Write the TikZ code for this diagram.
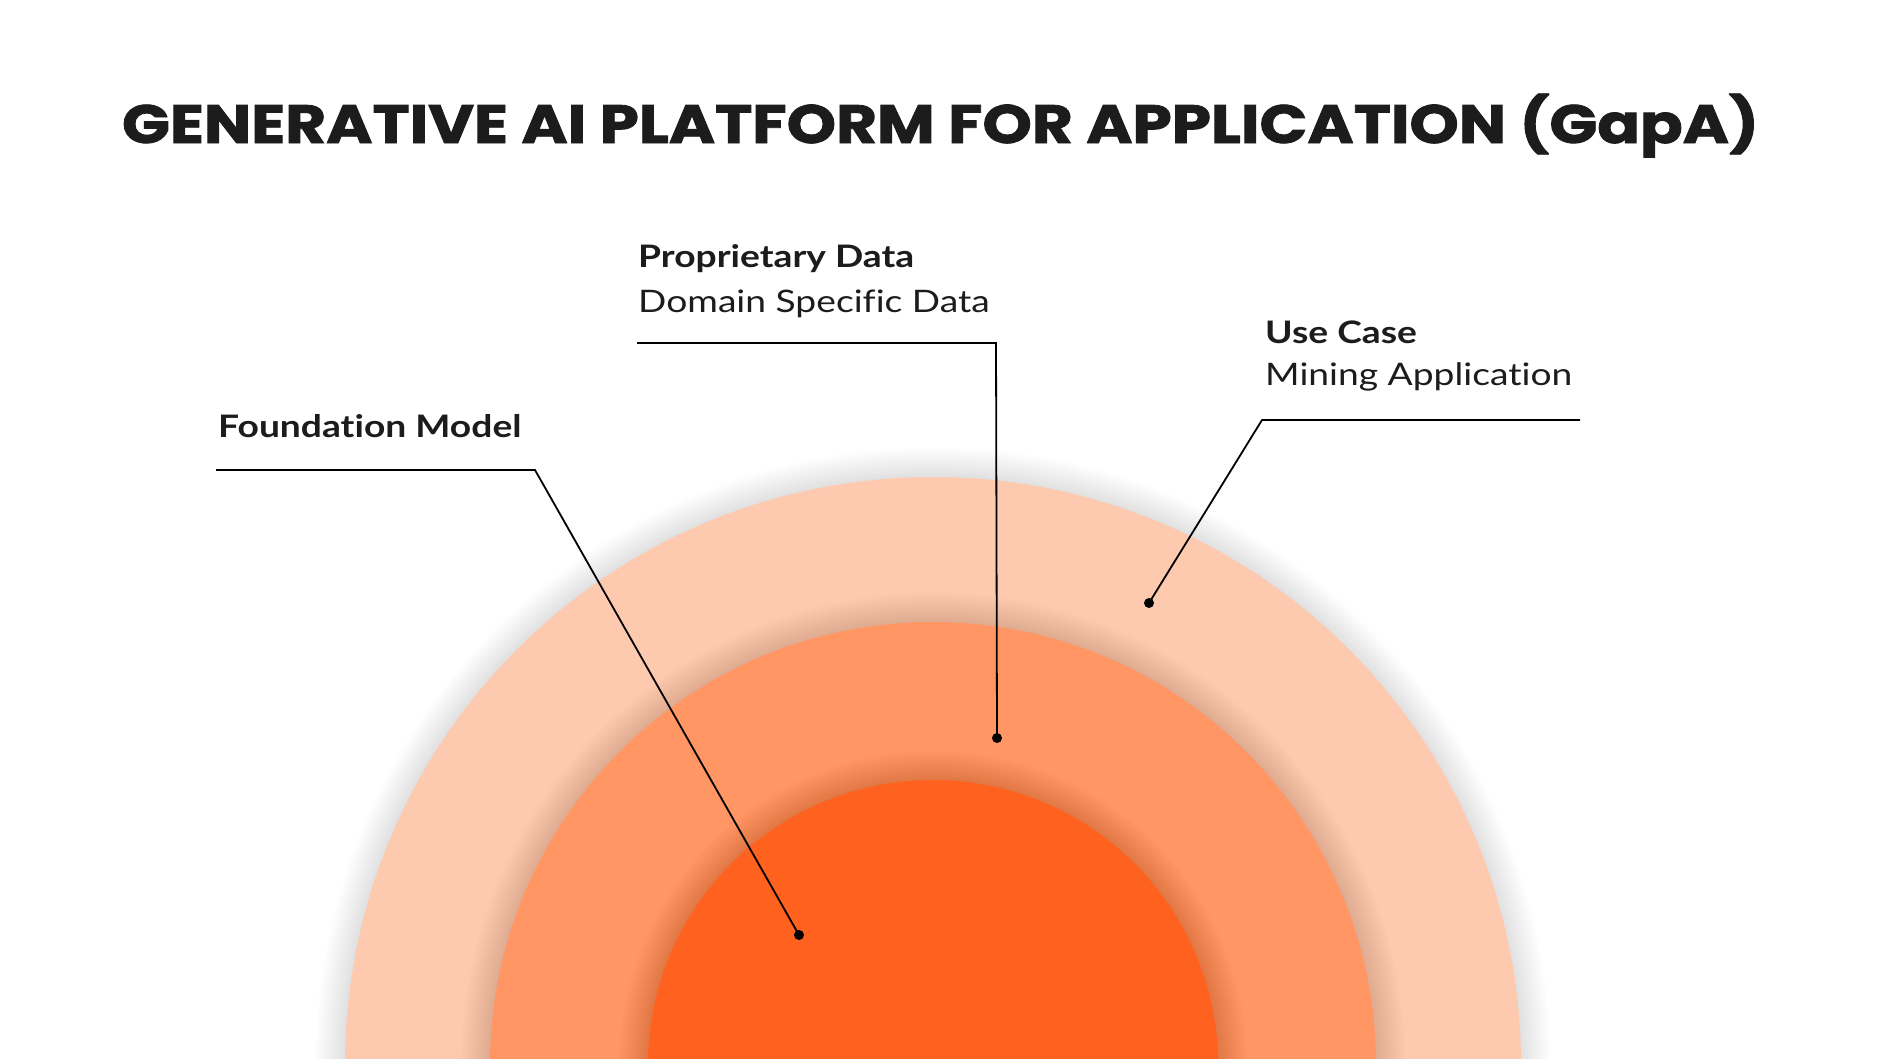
\documentclass[tikz,border=0pt]{standalone}
\usepackage{fontspec}
\usepackage{graphicx}
\setmainfont{Lato}[FakeStretch=1.2,Ligatures=NoCommon]
\newfontfamily\titlefont{Poppins}[FakeBold=1.5]
\definecolor{ringA}{RGB}{253,202,176}
\definecolor{ringB}{RGB}{255,150,100}
\definecolor{ringC}{RGB}{255,98,30}
\definecolor{ink}{RGB}{28,28,28}
\tikzset{
  dotnode/.style={circle,fill=black,inner sep=0pt,minimum size=10pt},
  leader/.style={draw=black,line width=1.8pt,line join=miter},
  headtext/.style={anchor=base west,inner sep=0pt,text=ink,font=\fontsize{31}{37}\selectfont\bfseries},
  subtext/.style={anchor=base west,inner sep=0pt,text=ink,font=\fontsize{31}{37}\selectfont},
  ringshadow/.style={fill=black,fill opacity=0.0045}
}
\begin{document}
\begin{tikzpicture}[x=1pt,y=-1pt]
\useasboundingbox (0,0) rectangle (1881,1058);
\fill[white] (0,0) rectangle (1881,1058);
\begin{scope}
\clip (0,0) rectangle (1881,1058);
% outer ring
\foreach \i in {1,...,30} {\fill[ringshadow] (933,1065) circle[radius=588+\i];}
\fill[ringA] (933,1065) circle[radius=588];
% middle ring
\foreach \i in {1,...,30} {\fill[ringshadow] (933,1065) circle[radius=443+\i];}
\fill[ringB] (933,1065) circle[radius=443];
% inner disc
\foreach \i in {1,...,30} {\fill[ringshadow] (933,1065) circle[radius=285+\i];}
\fill[ringC] (933,1065) circle[radius=285];
\end{scope}

% title
\node[anchor=base,inner sep=0pt,text=ink] (title) at (940.5,143)
  {\resizebox{1637pt}{\height}{\titlefont\bfseries\fontsize{54}{60}\selectfont GENERATIVE AI PLATFORM FOR APPLICATION (GapA)}};

% labels
\node[headtext] (fmhead) at (218,437) {Foundation Model};
\node[headtext] (pdhead) at (638,267) {Proprietary Data};
\node[subtext] (pdsub) at (638,312) {Domain Specific Data};
\node[headtext] (uchead) at (1265,343) {Use Case};
\node[subtext] (ucsub) at (1265,385) {Mining Application};

% dots
\node[dotnode] (fmdot) at (799,935) {};
\node[dotnode] (pddot) at (997,738) {};
\node[dotnode] (ucdot) at (1149,603) {};

% leader coordinates
\coordinate (fmstart) at (216,470);
\coordinate (fmbend) at (535,470);
\coordinate (pdstart) at (637,343);
\coordinate (pdbend) at (996,343);
\coordinate (ucstart) at (1580,420);
\coordinate (ucbend) at (1262,420);

\draw[leader] (fmstart) -- (fmbend) -- (fmdot.center);
\draw[leader] (pdstart) -- (pdbend) -- (pddot.center);
\draw[leader] (ucstart) -- (ucbend) -- (ucdot.center);
\end{tikzpicture}
\end{document}
